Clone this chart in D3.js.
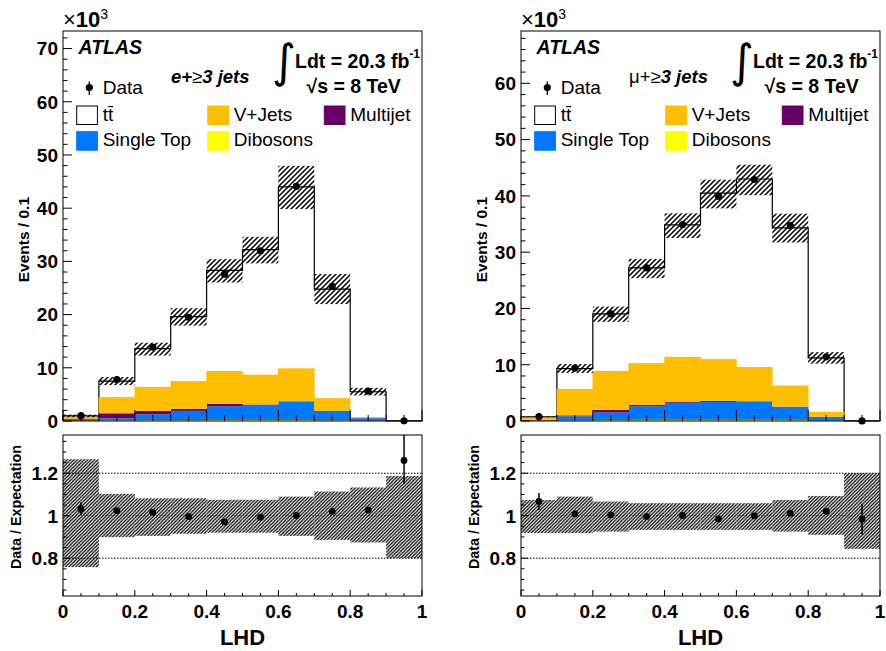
<!DOCTYPE html>
<html>
<head>
<meta charset="utf-8">
<script src="https://cdn.jsdelivr.net/npm/d3@7"></script>
<style>
body { margin: 0; background: #fff; }
text { font-family: "Liberation Sans", Arial, Helvetica, sans-serif; fill: #000; }
</style>
</head>
<body>
<div id="viz"></div>
<script>
var width = 886;
var height = 651;

// bins of the LHD discriminant
var binLo = [0, 0.1, 0.2, 0.3, 0.4, 0.5, 0.6, 0.7, 0.8, 0.9];
var xTickLabels = ["0", "0.2", "0.4", "0.6", "0.8", "1"];
var ratioTickLabels = ["0.8", "1", "1.2"];

// e + >=3 jets, events / 0.1 in units of 10^3
var eTtbar  = [0.20, 3.00, 7.20, 12.10, 18.90, 23.50, 34.10, 20.50, 4.75, 0.02];
var eVjets  = [0.40, 3.05, 4.50, 5.20, 6.15, 5.60, 6.20, 2.40, 0.20, 0.00];
var eMulti  = [0.25, 0.95, 0.65, 0.40, 0.50, 0.20, 0.10, 0.15, 0.05, 0.00];
var eStop   = [0.05, 0.40, 1.10, 1.75, 2.55, 2.70, 3.40, 1.60, 0.45, 0.00];
var eDibos  = [0.05, 0.10, 0.15, 0.15, 0.20, 0.20, 0.20, 0.15, 0.05, 0.00];
var eData   = [1.00, 7.80, 13.90, 19.50, 27.60, 32.00, 44.10, 25.30, 5.60, 0.03];
// relative uncertainty band (expectation = 1)
var eBandUp = [1.266, 1.103, 1.082, 1.082, 1.075, 1.075, 1.090, 1.114, 1.133, 1.187];
var eBandDn = [0.758, 0.899, 0.905, 0.915, 0.920, 0.920, 0.905, 0.886, 0.874, 0.800];
var eRatio  = [1.032, 1.024, 1.016, 0.996, 0.971, 0.993, 1.001, 1.020, 1.027, 1.260];
var eRatioErrUp = [0.030, 0.006, 0.005, 0.005, 0.004, 0.004, 0.004, 0.005, 0.010, 0.250];
var eRatioErrDn = [0.030, 0.006, 0.005, 0.005, 0.004, 0.004, 0.004, 0.005, 0.010, 0.110];

// mu + >=3 jets
var mTtbar  = [0.20, 3.60, 10.15, 16.90, 23.45, 29.50, 33.40, 28.00, 9.60, 0.02];
var mVjets  = [0.35, 4.70, 6.95, 7.45, 7.95, 7.40, 6.10, 3.75, 0.85, 0.00];
var mMulti  = [0.10, 0.17, 0.45, 0.25, 0.20, 0.20, 0.10, 0.05, 0.05, 0.00];
var mStop   = [0.05, 0.73, 1.35, 2.40, 3.05, 3.20, 3.20, 2.30, 0.65, 0.00];
var mDibos  = [0.05, 0.10, 0.15, 0.20, 0.20, 0.20, 0.20, 0.20, 0.05, 0.00];
var mData   = [0.80, 9.40, 19.05, 27.20, 34.90, 39.90, 42.90, 34.70, 11.40, 0.02];
var mBandUp = [1.074, 1.090, 1.067, 1.059, 1.059, 1.059, 1.059, 1.074, 1.093, 1.200];
var mBandDn = [0.918, 0.918, 0.925, 0.933, 0.933, 0.933, 0.933, 0.925, 0.910, 0.844];
var mRatio  = [1.067, 1.009, 1.004, 0.996, 1.001, 0.984, 0.999, 1.012, 1.021, 0.984];
var mRatioErrUp = [0.040, 0.006, 0.005, 0.004, 0.004, 0.004, 0.004, 0.004, 0.006, 0.072];
var mRatioErrDn = [0.040, 0.006, 0.005, 0.004, 0.004, 0.004, 0.004, 0.004, 0.006, 0.072];

var keys = ["dib", "stop", "multi", "vjets", "ttbar"];
var colors = {dib: "#ffff00", stop: "#0077ff", multi: "#660066", vjets: "#ffbf00", ttbar: "#ffffff"};

var svg = d3.select("#viz").append("svg")
    .attr("width", width)
    .attr("height", height);

var defs = svg.append("defs");

function hatch(id, s, sw) {
  defs.append("pattern")
      .attr("id", id)
      .attr("patternUnits", "userSpaceOnUse")
      .attr("width", s)
      .attr("height", s)
    .append("path")
      .attr("d", "M-1,1 l2,-2 M0," + s + " l" + s + "," + (-s) + " M" + (s - 1) + "," + (s + 1) + " l2,-2")
      .attr("stroke", "#000")
      .attr("stroke-width", sw);
}
hatch("hatchTop", 5, 1.5);
hatch("hatchRatio", 3.4, 1.25);

var panels = [
  {x0: 63, ymax: 73.3, yLabels: d3.range(0, 71, 10), lep: "e",
   ttbar: eTtbar, vjets: eVjets, multi: eMulti, stop: eStop, dib: eDibos, data: eData,
   bandUp: eBandUp, bandDn: eBandDn, ratio: eRatio, errUp: eRatioErrUp, errDn: eRatioErrDn},
  {x0: 521, ymax: 69.3, yLabels: d3.range(0, 61, 10), lep: "\u03bc",
   ttbar: mTtbar, vjets: mVjets, multi: mMulti, stop: mStop, dib: mDibos, data: mData,
   bandUp: mBandUp, bandDn: mBandDn, ratio: mRatio, errUp: mRatioErrUp, errDn: mRatioErrDn}
];

panels.forEach(drawPanel);

function drawPanel(p) {
  var x0 = p.x0, x1 = p.x0 + 359;
  var topY0 = 31, topY1 = 421;
  var botY0 = 435, botY1 = 596;

  var x = d3.scaleLinear().domain([0, 1]).range([x0, x1]);
  var y = d3.scaleLinear().domain([0, p.ymax]).range([topY1, topY0]);
  var yr = d3.scaleLinear().domain([0.622, 1.38]).range([botY1, botY0]).clamp(true);

  var rows = binLo.map(function(lo, i) {
    return {lo: lo, hi: lo + 0.1, mid: lo + 0.05,
            dib: p.dib[i], stop: p.stop[i], multi: p.multi[i], vjets: p.vjets[i], ttbar: p.ttbar[i],
            data: p.data[i], up: p.bandUp[i], dn: p.bandDn[i],
            ratio: p.ratio[i], eu: p.errUp[i], ed: p.errDn[i]};
  });
  rows.forEach(function(r) { r.total = keys.reduce(function(s, k) { return s + r[k]; }, 0); });

  var series = d3.stack().keys(keys)(rows);

  var top = svg.append("g");

  // ttbar (white, top of stack) + outline of the total
  top.selectAll("rect.tt")
      .data(series[4])
    .enter().append("rect")
      .attr("x", function(d) { return x(d.data.lo); })
      .attr("width", x(0.1) - x(0))
      .attr("y", function(d) { return y(d[1]); })
      .attr("height", function(d) { return y(d[0]) - y(d[1]); })
      .attr("fill", "#fff");

  var stepPts = [[0, 0]];
  rows.forEach(function(r) { stepPts.push([r.lo, r.total]); });
  stepPts.push([1, rows[rows.length - 1].total]);
  stepPts.push([1, 0]);
  top.append("path")
      .attr("d", d3.line().curve(d3.curveStepAfter)
        .x(function(d) { return x(d[0]); })
        .y(function(d) { return y(d[1]); })(stepPts))
      .attr("fill", "none")
      .attr("stroke", "#000")
      .attr("stroke-width", 1.2);

  // other backgrounds on top of the outline
  series.slice(0, 4).forEach(function(s) {
    top.selectAll(null)
        .data(s)
      .enter().append("rect")
        .attr("x", function(d) { return x(d.data.lo) - 0.3; })
        .attr("width", x(0.1) - x(0) + 0.6)
        .attr("y", function(d) { return y(d[1]); })
        .attr("height", function(d) { return Math.max(0, y(d[0]) - y(d[1])); })
        .attr("fill", colors[s.key]);
  });

  // uncertainty band
  top.selectAll("rect.band")
      .data(rows)
    .enter().append("rect")
      .attr("x", function(d) { return x(d.lo); })
      .attr("width", x(0.1) - x(0))
      .attr("y", function(d) { return y(d.total * d.up); })
      .attr("height", function(d) { return y(d.total * d.dn) - y(d.total * d.up); })
      .attr("fill", "url(#hatchTop)");

  // data
  top.selectAll("circle.data")
      .data(rows)
    .enter().append("circle")
      .attr("cx", function(d) { return x(d.mid); })
      .attr("cy", function(d) { return y(d.data); })
      .attr("r", 3.6)
      .attr("fill", "#000");

  // axes of the top pad
  var ax = svg.append("g").attr("stroke", "#000").attr("stroke-width", 1);
  d3.range(0, p.ymax, 2).forEach(function(v) {
    var major = v % 10 === 0;
    ax.append("line").attr("x1", x0).attr("x2", x0 + (major ? 9 : 4.5))
      .attr("y1", y(v)).attr("y2", y(v));
  });
  d3.range(0, 21).forEach(function(i) {
    var v = i * 0.05, major = i % 4 === 0;
    ax.append("line").attr("x1", x(v)).attr("x2", x(v))
      .attr("y1", topY1).attr("y2", topY1 - (major ? 11 : 6));
  });
  ax.append("rect").attr("x", x0).attr("y", topY0).attr("width", x1 - x0).attr("height", topY1 - topY0)
    .attr("fill", "none");

  svg.selectAll(null)
      .data(p.yLabels)
    .enter().append("text")
      .attr("x", x0 - 5)
      .attr("y", function(d) { return y(d); })
      .attr("dy", "0.36em")
      .attr("text-anchor", "end")
      .style("font-size", "19px")
      .style("font-weight", "bold")
      .text(function(d) { return d; });

  svg.append("text")
      .attr("transform", "translate(" + (x0 - 34) + ",197) rotate(-90)")
      .attr("text-anchor", "end")
      .style("font-size", "15.5px")
      .style("font-weight", "bold")
      .text("Events / 0.1");

  var mult = svg.append("text").attr("x", x0).attr("y", 27).style("font-size", "22px");
  mult.append("tspan").text("\u00d7");
  mult.append("tspan").style("font-weight", "bold").text("10");
  mult.append("tspan").attr("dy", -8).style("font-size", "14px").text("3");

  // labels and legend
  var ox = x0 - 63;
  svg.append("text").attr("x", ox + 78.5).attr("y", 54.3)
      .style("font-size", "19.5px").style("font-weight", "bold").style("font-style", "italic")
      .text("ATLAS");

  var ch = svg.append("text").attr("x", ox + 171).attr("y", 82.5).style("font-size", "18.5px");
  ch.append("tspan").style("font-weight", p.lep === "e" ? "bold" : "normal")
      .style("font-style", p.lep === "e" ? "italic" : "normal").text(p.lep + "+");
  ch.append("tspan").text("\u2265");
  ch.append("tspan").style("font-weight", "bold").style("font-style", "italic").text("3 jets");

  svg.append("text").attr("x", ox + 272).attr("y", 77)
      .style("font-family", "'DejaVu Sans'").style("font-size", "46px")
      .text("\u222b");
  var lum = svg.append("text").attr("x", ox + 295).attr("y", 68.3)
      .style("font-size", "19.5px").style("font-weight", "bold");
  lum.append("tspan").text("Ldt = 20.3 fb");
  lum.append("tspan").attr("dy", -10).style("font-size", "12px").text("-1");
  svg.append("text").attr("x", ox + 306.5).attr("y", 93.3)
      .style("font-size", "19.5px").style("font-weight", "bold")
      .text("\u221as = 8 TeV");

  // legend
  svg.append("line").attr("x1", ox + 89.3).attr("x2", ox + 89.3).attr("y1", 81.5).attr("y2", 95)
      .attr("stroke", "#000").attr("stroke-width", 1.3);
  svg.append("circle").attr("cx", ox + 89.3).attr("cy", 87.5).attr("r", 3.6).attr("fill", "#000");
  svg.append("text").attr("x", ox + 102.7).attr("y", 94).style("font-size", "19px").text("Data");

  var legendItems = [
    {key: "ttbar", label: "t\u0074\u0304", x: 76.7, y: 106},
    {key: "vjets", label: "V+Jets", x: 207.7, y: 106},
    {key: "multi", label: "Multijet", x: 324.3, y: 106},
    {key: "stop", label: "Single Top", x: 76.7, y: 131.7},
    {key: "dib", label: "Dibosons", x: 207.7, y: 131.7}
  ];
  legendItems.forEach(function(it) {
    svg.append("rect")
        .attr("x", ox + it.x).attr("y", it.y)
        .attr("width", 20.7).attr("height", 18.5)
        .attr("fill", colors[it.key])
        .attr("stroke", it.key === "ttbar" ? "#000" : colors[it.key])
        .attr("stroke-width", 1);
    svg.append("text")
        .attr("x", ox + it.x + 26).attr("y", it.y + 14.5)
        .style("font-size", "19px")
        .text(it.label);
  });

  // ratio pad
  var bot = svg.append("g");
  [0.8, 1.0, 1.2].forEach(function(v) {
    bot.append("line")
        .attr("x1", x0).attr("x2", x1)
        .attr("y1", yr(v)).attr("y2", yr(v))
        .attr("stroke", v === 1.0 ? "#888" : "#000")
        .attr("stroke-width", 1)
        .attr("stroke-dasharray", "1.5,1.5");
  });

  bot.selectAll("rect.rband")
      .data(rows)
    .enter().append("rect")
      .attr("x", function(d) { return x(d.lo); })
      .attr("width", x(0.1) - x(0))
      .attr("y", function(d) { return yr(d.up); })
      .attr("height", function(d) { return yr(d.dn) - yr(d.up); })
      .attr("fill", "url(#hatchRatio)");

  bot.selectAll("line.err")
      .data(rows)
    .enter().append("line")
      .attr("x1", function(d) { return x(d.mid); })
      .attr("x2", function(d) { return x(d.mid); })
      .attr("y1", function(d) { return yr(d.ratio + d.eu); })
      .attr("y2", function(d) { return yr(d.ratio - d.ed); })
      .attr("stroke", "#000")
      .attr("stroke-width", 1.5);

  bot.selectAll("circle.r")
      .data(rows)
    .enter().append("circle")
      .attr("cx", function(d) { return x(d.mid); })
      .attr("cy", function(d) { return yr(d.ratio); })
      .attr("r", 3.4)
      .attr("fill", "#000");

  var bx = svg.append("g").attr("stroke", "#000").attr("stroke-width", 1);
  d3.range(13, 28).forEach(function(i) {
    var v = i * 0.05, major = i % 4 === 0;
    bx.append("line").attr("x1", x0).attr("x2", x0 + (major ? 7 : 3.5))
      .attr("y1", yr(v)).attr("y2", yr(v));
  });
  d3.range(0, 21).forEach(function(i) {
    var v = i * 0.05, major = i % 4 === 0;
    bx.append("line").attr("x1", x(v)).attr("x2", x(v))
      .attr("y1", botY1).attr("y2", botY1 - (major ? 6 : 3));
  });
  bx.append("rect").attr("x", x0).attr("y", botY0).attr("width", x1 - x0).attr("height", botY1 - botY0)
    .attr("fill", "none");

  svg.selectAll(null)
      .data(ratioTickLabels)
    .enter().append("text")
      .attr("x", x0 - 5)
      .attr("y", function(d) { return yr(+d); })
      .attr("dy", "0.36em")
      .attr("text-anchor", "end")
      .style("font-size", "19px")
      .style("font-weight", "bold")
      .text(function(d) { return d; });

  svg.selectAll(null)
      .data(xTickLabels)
    .enter().append("text")
      .attr("x", function(d) { return x(+d); })
      .attr("y", 618)
      .attr("text-anchor", "middle")
      .style("font-size", "19px")
      .style("font-weight", "bold")
      .text(function(d) { return d; });

  svg.append("text")
      .attr("x", (x0 + x1) / 2)
      .attr("y", 645)
      .attr("text-anchor", "middle")
      .style("font-size", "22px")
      .style("font-weight", "bold")
      .text("LHD");

  svg.append("text")
      .attr("transform", "translate(" + (x0 - 42.5) + ",445) rotate(-90)")
      .attr("text-anchor", "end")
      .style("font-size", "14.3px")
      .style("font-weight", "bold")
      .text("Data / Expectation");
}
</script>
</body>
</html>
